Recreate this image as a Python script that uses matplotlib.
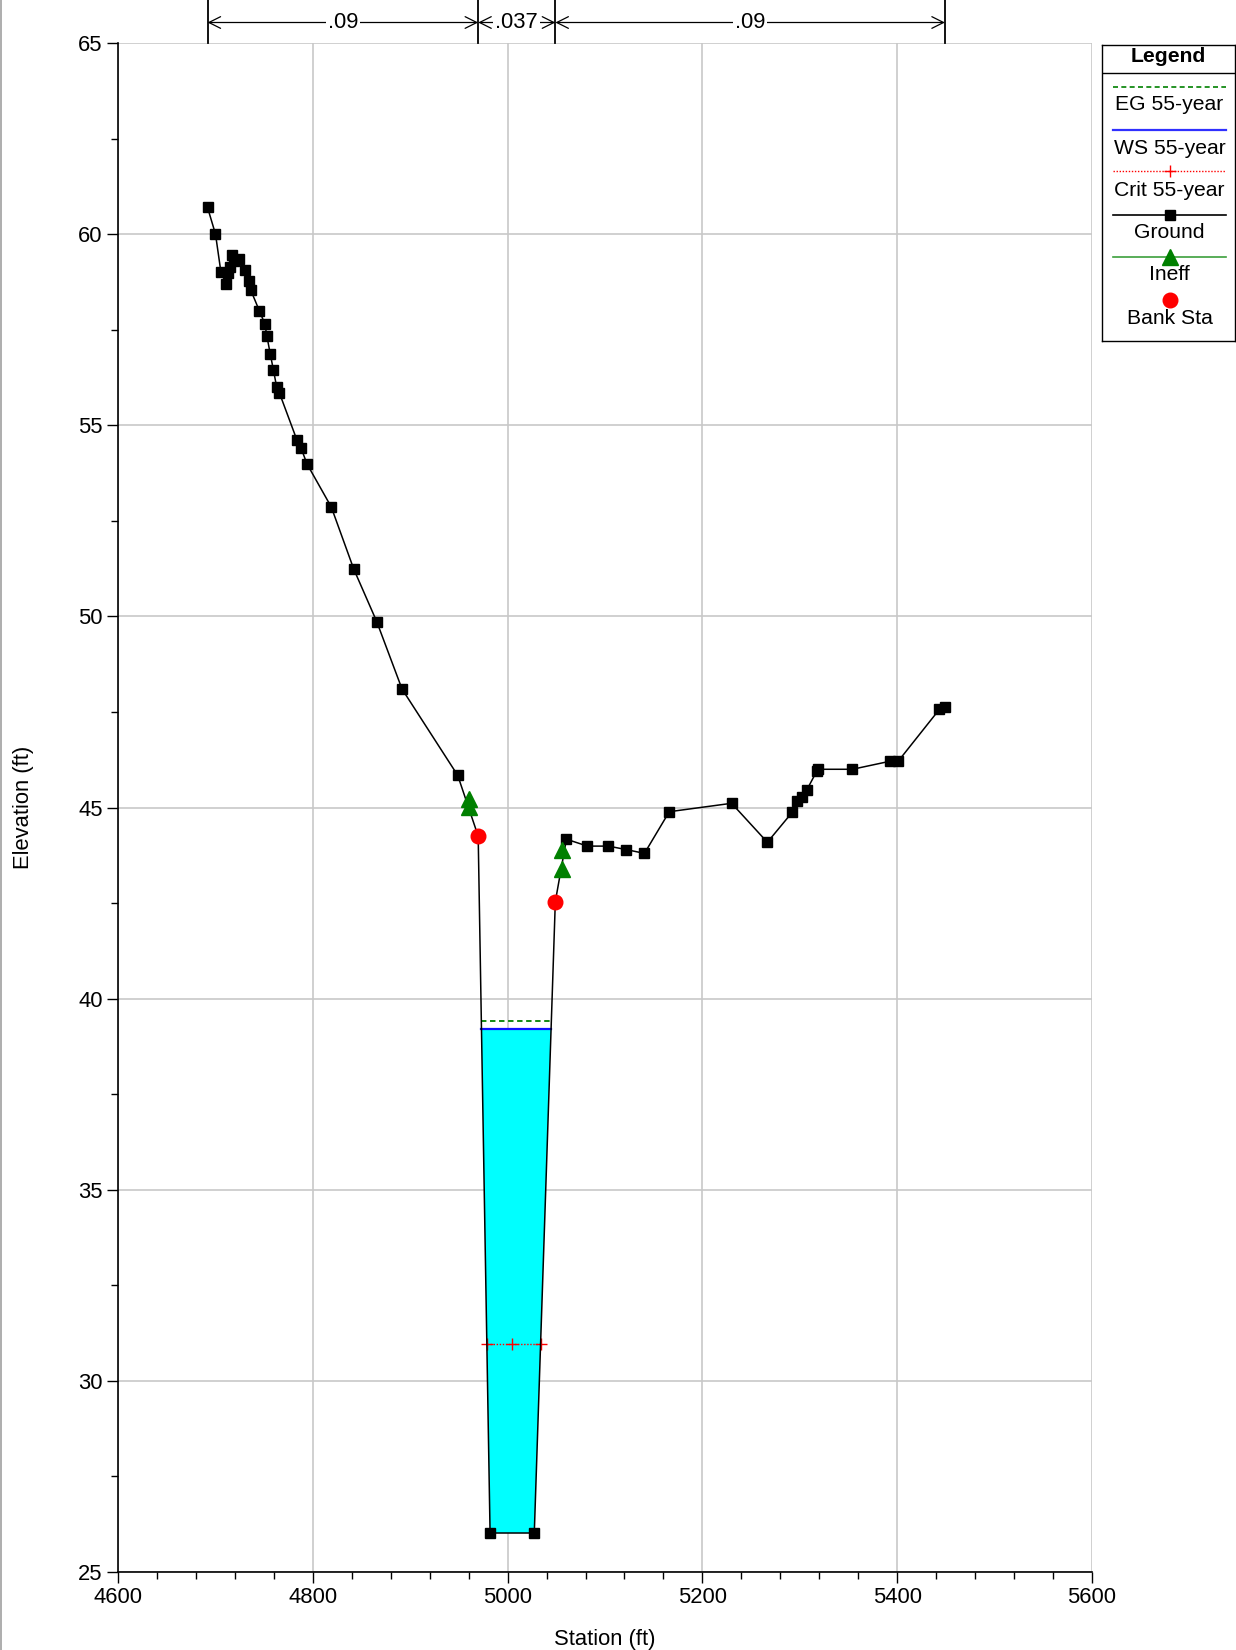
import numpy as np
import matplotlib
matplotlib.use("Agg")
import matplotlib.pyplot as plt
from matplotlib.lines import Line2D
from matplotlib.ticker import MultipleLocator

plt.rcParams["font.family"] = ["Liberation Sans", "DejaVu Sans"]

# ── Cross-section data ────────────────────────────────────────────────
GROUND_STA = [4691.9, 4700.1, 4705.6, 4711.0, 4713.4, 4715.0, 4717.5, 4719.5,
              4724.0, 4730.0, 4734.0, 4736.4, 4745.2, 4750.8, 4752.8, 4756.3,
              4759.6, 4763.0, 4765.8, 4783.6, 4788.0, 4794.0, 4819.0, 4842.0,
              4865.7, 4891.6, 4948.8, 4969.8, 4982.0, 5027.4, 5049.0, 5060.4,
              5082.0, 5103.5, 5121.6, 5140.5, 5166.0, 5230.0, 5266.7, 5292.4,
              5297.6, 5302.0, 5307.0, 5317.4, 5319.0, 5354.0, 5392.6, 5401.0,
              5443.4, 5449.0]
GROUND_ELEV = [60.70, 60.00, 59.02, 58.70, 58.99, 59.13, 59.46, 59.30,
               59.34, 59.06, 58.78, 58.53, 57.99, 57.65, 57.34, 56.87,
               56.44, 55.99, 55.84, 54.62, 54.40, 53.99, 52.86, 51.24,
               49.86, 48.10, 45.84, 44.25, 26.02, 26.02, 42.54, 44.17,
               43.99, 43.99, 43.90, 43.80, 44.89, 45.11, 44.09, 44.88,
               45.18, 45.28, 45.45, 45.95, 46.00, 46.00, 46.21, 46.21,
               47.57, 47.62]

BANK_STA = [4969.8, 5049.0]
BANK_ELEV = [44.25, 42.54]

INEFF_STA = [4960.5, 4960.5, 5055.6, 5055.6]
INEFF_ELEV = [45.21, 45.02, 43.88, 43.38]

WS_ELEV = 39.20
EG_ELEV = 39.42
CRIT_ELEV = 30.97
CRIT_STA = [4978.7, 5004.3, 5034.1]

# Manning's n regions drawn above the plot
N_BREAKS = [4691.9, 4969.8, 5049.0, 5449.0]
N_VALUES = [".09", ".037", ".09"]

LEGEND_LABELS = ["EG 55-year", "WS 55-year", "Crit 55-year", "Ground", "Ineff", "Bank Sta"]

FS = 15.8
LEG_FS = 15.2
W, H = 1236, 1650


def wall_crossings(level):
    """Stations where a water level meets the channel walls."""
    sta = np.array(GROUND_STA)
    z = np.array(GROUND_ELEV)
    inch = (sta >= BANK_STA[0]) & (sta <= BANK_STA[1])
    s, e = sta[inch], z[inch]
    lo_first = int(np.argmin(e))
    lo_last = len(e) - 1 - int(np.argmin(e[::-1]))
    left = np.interp(level, e[:lo_first + 1][::-1], s[:lo_first + 1][::-1])
    right = np.interp(level, e[lo_last:], s[lo_last:])
    return left, right, s, e


fig = plt.figure(figsize=(W / 100, H / 100), dpi=100)
ax = fig.add_axes([118 / W, 1 - 1572 / H, (1092 - 118) / W, (1572 - 43) / H])

# water fill
wl, wr, cs, ce = wall_crossings(WS_ELEV)
wet = ce < WS_ELEV
poly_x = [wl] + list(cs[wet]) + [wr]
poly_y = [WS_ELEV] + list(ce[wet]) + [WS_ELEV]
ax.fill(poly_x, poly_y, color="#00ffff", zorder=2, lw=0)

ax.plot([wl, wr], [WS_ELEV, WS_ELEV], color="#1010ff", lw=1.6, zorder=4)
el, er, _, _ = wall_crossings(EG_ELEV)
ax.plot([el, er], [EG_ELEV, EG_ELEV], color="#008000", lw=1.3,
        linestyle=(0, (3, 2)), zorder=4)
ax.plot(CRIT_STA, [CRIT_ELEV] * len(CRIT_STA), color="red", lw=1.0,
        linestyle=(0, (1, 1.2)), marker="+", markersize=9, mew=1.0, zorder=4)

ax.plot(GROUND_STA, GROUND_ELEV, color="black", lw=1.1, marker="s",
        markersize=6.6, zorder=5)
ax.plot(INEFF_STA, INEFF_ELEV, linestyle="none", marker="^", color="green",
        markersize=11, zorder=6)
ax.plot(BANK_STA, BANK_ELEV, linestyle="none", marker="o", color="red",
        markersize=10.5, zorder=7)

ax.set_xlim(4600, 5600)
ax.set_ylim(25, 65)
ax.xaxis.set_major_locator(MultipleLocator(200))
ax.xaxis.set_minor_locator(MultipleLocator(40))
ax.yaxis.set_major_locator(MultipleLocator(5))
ax.yaxis.set_minor_locator(MultipleLocator(2.5))
ax.tick_params(which="major", direction="out", length=8, width=1,
               labelsize=FS, pad=3)
ax.tick_params(which="minor", direction="out", length=5, width=1)
ax.grid(True, which="major", color="#c8c8c8", lw=1.2)
ax.set_axisbelow(True)
for side in ("top", "right"):
    ax.spines[side].set_visible(False)
for side in ("left", "bottom"):
    ax.spines[side].set_linewidth(1.2)

ax.set_xlabel("Station (ft)", fontsize=FS, labelpad=15)
ax.set_ylabel("Elevation (ft)", fontsize=FS, labelpad=32)

# Manning's n bar
trans = ax.get_xaxis_transform()
top = 1 + 43 / 1529
arrow_y = 1 + 20.5 / 1529
for x in N_BREAKS:
    ax.plot([x, x], [1.0, top], transform=trans, clip_on=False,
            color="black", lw=1.3)
for x0, x1, lab in zip(N_BREAKS[:-1], N_BREAKS[1:], N_VALUES):
    ax.annotate("", xy=(x1, arrow_y), xytext=(x0, arrow_y), xycoords=trans,
                textcoords=trans, annotation_clip=False,
                arrowprops=dict(arrowstyle="<->,head_length=0.6,head_width=0.3",
                                lw=0.9, shrinkA=0, shrinkB=0, mutation_scale=14))
    ax.text((x0 + x1) / 2, arrow_y, lab, transform=trans, ha="center",
            va="center", fontsize=FS, zorder=10,
            bbox=dict(facecolor="white", edgecolor="none", pad=1.5))

# Legend box
lax = fig.add_axes([1102 / W, 1 - 341 / H, 133 / W, (341 - 45) / H])
lax.set_xlim(1102, 1235)
lax.set_ylim(341, 45)
lax.set_xticks([])
lax.set_yticks([])
for sp in lax.spines.values():
    sp.set_linewidth(1.0)
lax.text(1168.5, 57, "Legend", ha="center", va="center", fontsize=LEG_FS,
         fontweight="bold")
lax.plot([1102, 1235], [72.5, 72.5], color="black", lw=1.0)

lx = [1113, 1226]
cx = 1169.5
sym_y = [86.5, 129.5, 171, 215, 257, 300]
txt_y = [105, 148, 190, 233, 275, 318]
lax.plot(lx, [sym_y[0]] * 2, color="#008000", lw=1.2, linestyle=(0, (3, 2)))
lax.plot(lx, [sym_y[1]] * 2, color="#3030ff", lw=1.6)
lax.plot(lx, [sym_y[2]] * 2, color="red", lw=1.0, linestyle=(0, (1, 1.2)))
lax.plot([cx], [sym_y[2]], color="red", marker="+", markersize=9, mew=1.0)
lax.plot(lx, [sym_y[3]] * 2, color="black", lw=1.2)
lax.plot([cx], [sym_y[3]], color="black", marker="s", markersize=6.6)
lax.plot(lx, [sym_y[4]] * 2, color="#3ca03c", lw=1.2)
lax.plot([cx], [sym_y[4]], color="green", marker="^", markersize=11)
lax.plot([cx], [sym_y[5]], color="red", marker="o", markersize=10.5)
for ty, lab in zip(txt_y, LEGEND_LABELS):
    lax.text(cx, ty, lab, ha="center", va="center", fontsize=LEG_FS)

# thin frame line at left edge of the window
fig.add_artist(Line2D([0.6 / W, 0.6 / W], [0, 1], transform=fig.transFigure,
                      color="#a0a0a0", lw=1.2))

fig.savefig("out.png", dpi=100)
